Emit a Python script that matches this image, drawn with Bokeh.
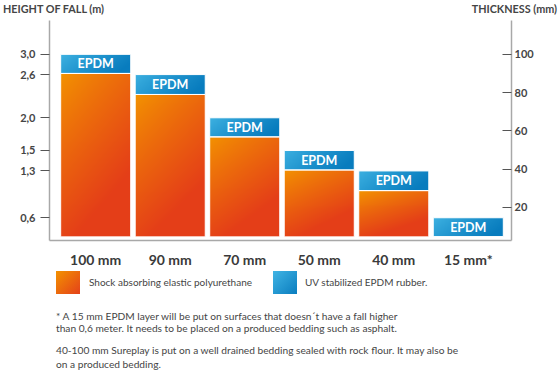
import numpy as np
from bokeh.plotting import figure
from bokeh.models import Range1d, LinearAxis, FixedTicker, ColumnDataSource, Div
from bokeh.layouts import column
from bokeh.core.properties import value
from bokeh.embed import file_html
from bokeh.resources import INLINE

# ---------------- data ----------------
thickness_labels = ["100 mm", "90 mm", "70 mm", "50 mm", "40 mm", "15 mm*"]
fall_labels = ["3,0", "2,6", "2,0", "1,5", "1,3", "0,6"]
bar_base = 4.5                                        # bottom of the bars (mm scale)
pu_top = [90.0, 79.0, 56.8, 39.5, 28.7, 4.5]           # top of polyurethane layer
epdm_top = [100.0, 89.4, 66.8, 49.7, 39.0, 14.5]       # top of EPDM layer
thickness_ticks = [20, 40, 60, 80, 100]

legend_labels = ["Shock absorbing elastic polyurethane", "UV stabilized EPDM rubber."]
title_left = "HEIGHT OF FALL (m)"
title_right = "THICKNESS (mm)"
footnotes = [
    "* A 15 mm EPDM layer will be put on surfaces that doesn\u00b4t have a fall higher",
    "than 0,6 meter. It needs to be placed on a produced bedding such as asphalt.",
    "40-100 mm Sureplay is put on a well drained bedding sealed with rock flour. It may also be",
    "on a produced bedding.",
]

# ---------------- layout / style ----------------
W = 560
TOP_H, FIG_H, BOT_H = 20, 250, 100
BL, BR, BT, BB = 49, 49, 0, 27
Y0, Y1 = 2.6, 117.7
X0, X1 = -0.62, 5.58
BAR_W = 0.94
FONT = "Lato"
TXT = "#454545"
AX = "#a8a8a8"
ORANGE0, ORANGE1 = np.array([243, 148, 0]), np.array([228, 62, 24])
BLUE0, BLUE1 = np.array([62, 178, 226]), np.array([8, 124, 190])

frame_w = W - BL - BR
frame_h = FIG_H - BT - BB
px_y = frame_h / (Y1 - Y0)
px_x = frame_w / (X1 - X0)

xs = list(range(len(thickness_labels)))

p = figure(width=W, height=FIG_H, output_backend="svg", toolbar_location=None,
           x_range=Range1d(X0, X1), y_range=Range1d(Y0, Y1),
           y_axis_location="right", min_border_left=BL, min_border_right=BR,
           min_border_top=BT, min_border_bottom=BB, margin=(0, 0, 0, 0))
p.outline_line_color = None
p.grid.visible = False
p.background_fill_color = "white"
p.border_fill_color = "white"


def grad(w_px, h_px, c0, c1, wu, wv):
    w_px = max(int(round(w_px)), 2)
    h_px = max(int(round(h_px)), 2)
    u = np.linspace(0, 1, w_px)[None, :]
    v = np.linspace(0, 1, h_px)[:, None]
    t = np.clip(wu * u + wv * v, 0, 1) ** 0.85
    rgb = c0[None, None, :] + (c1 - c0)[None, None, :] * t[..., None]
    img = np.empty((h_px, w_px), dtype=np.uint32)
    view = img.view(dtype=np.uint8).reshape((h_px, w_px, 4))
    view[..., :3] = np.round(rgb).astype(np.uint8)
    view[..., 3] = 255
    return img[::-1].copy()


imgs, ix, iy, idw, idh = [], [], [], [], []
for i in xs:
    bw_px = BAR_W * px_x
    if pu_top[i] > bar_base:
        imgs.append(grad(bw_px, (pu_top[i] - bar_base) * px_y, ORANGE0, ORANGE1, 0.45, 0.9))
        ix.append(i - BAR_W / 2); iy.append(bar_base); idw.append(BAR_W); idh.append(pu_top[i] - bar_base)
    imgs.append(grad(bw_px, (epdm_top[i] - pu_top[i]) * px_y, BLUE0, BLUE1, 0.85, 0.3))
    ix.append(i - BAR_W / 2); iy.append(pu_top[i]); idw.append(BAR_W); idh.append(epdm_top[i] - pu_top[i])

p.image_rgba(image=imgs, x=ix, y=iy, dw=idw, dh=idh)

src = ColumnDataSource(dict(x=xs, base=[bar_base] * len(xs), pu=pu_top, top=epdm_top,
                            mid=[(a + b) / 2 for a, b in zip(pu_top, epdm_top)],
                            lab=["EPDM"] * len(xs)))
p.vbar(x="x", width=BAR_W, bottom="base", top="pu", source=src, fill_alpha=0,
       line_color="white", line_width=1)
p.vbar(x="x", width=BAR_W, bottom="pu", top="top", source=src, fill_alpha=0,
       line_color="white", line_width=1)
p.text(x="x", y="mid", text="lab", source=src, text_color="white",
       text_font=value(FONT), text_font_style="bold", text_font_size="12.5px",
       text_align="center", text_baseline="middle")

# right axis (thickness)
ra = p.yaxis[0]
ra.ticker = FixedTicker(ticks=thickness_ticks)
ra.major_tick_in = 9
ra.major_tick_out = 0
ra.minor_tick_line_color = None
ra.axis_line_color = AX
ra.axis_line_width = 1.5
ra.major_tick_line_color = "#555555"
ra.major_label_standoff = 3
ra.major_label_text_font = FONT
ra.major_label_text_font_style = "bold"
ra.major_label_text_font_size = "11px"
ra.major_label_text_color = TXT

# left axis (height of fall)
la = LinearAxis(ticker=FixedTicker(ticks=epdm_top),
                major_label_overrides={t: s for t, s in zip(epdm_top, fall_labels)})
la.major_tick_in = 0
la.major_tick_out = 9
la.minor_tick_line_color = None
la.axis_line_color = AX
la.axis_line_width = 1.5
la.major_tick_line_color = "#555555"
la.major_label_standoff = 5
la.major_label_text_font = FONT
la.major_label_text_font_style = "bold"
la.major_label_text_font_size = "11px"
la.major_label_text_color = TXT
p.add_layout(la, "left")

# bottom axis (thickness categories)
ba = p.xaxis[0]
ba.ticker = FixedTicker(ticks=xs)
ba.major_label_overrides = {i: s for i, s in zip(xs, thickness_labels)}
ba.major_tick_line_color = None
ba.minor_tick_line_color = None
ba.axis_line_color = AX
ba.axis_line_width = 1.5
ba.major_label_standoff = 4
ba.major_label_text_font = FONT
ba.major_label_text_font_style = "bold"
ba.major_label_text_font_size = "14px"
ba.major_label_text_color = "#3a3a3a"

# ---------------- titles (above) ----------------
top_html = (
    f'<div style="position:relative;width:{W}px;height:{TOP_H}px;font-family:{FONT};'
    f'font-weight:bold;font-size:10.8px;color:{TXT};">'
    f'<div style="position:absolute;left:3px;top:2px;line-height:14px;white-space:nowrap">{title_left}</div>'
    f'<div style="position:absolute;right:3px;top:2px;line-height:14px;white-space:nowrap">{title_right}</div>'
    '</div>')
top_div = Div(text=top_html, width=W, height=TOP_H, margin=(0, 0, 0, 0))

# ---------------- legend + notes (below) ----------------
sw = [("linear-gradient(135deg,#f39200,#e4411a)", 56, 89),
      ("linear-gradient(135deg,#40b4e4,#0a7dbf)", 273, 305)]
parts = [f'<div style="position:relative;width:{W}px;height:{BOT_H}px;font-family:{FONT};'
         f'font-size:10.2px;color:{TXT};">']
for (bg, sx, tx), txt in zip(sw, legend_labels):
    parts.append(f'<div style="position:absolute;left:{sx}px;top:1px;width:24px;height:23px;background:{bg}"></div>')
    parts.append(f'<div style="position:absolute;left:{tx}px;top:5px;line-height:14px;'
                 f'font-size:10px;white-space:nowrap">{txt}</div>')
for txt, cy in zip(footnotes, [46, 58, 80, 94]):
    parts.append(f'<div style="position:absolute;left:56px;top:{cy - 7}px;line-height:14px;'
                 f'white-space:nowrap">{txt}</div>')
parts.append('</div>')
bot_div = Div(text="".join(parts), width=W, height=BOT_H, margin=(0, 0, 0, 0))

layout = column(top_div, p, bot_div, spacing=0, margin=(0, 0, 0, 0))

open("out.html", "w").write(file_html(layout, INLINE))
